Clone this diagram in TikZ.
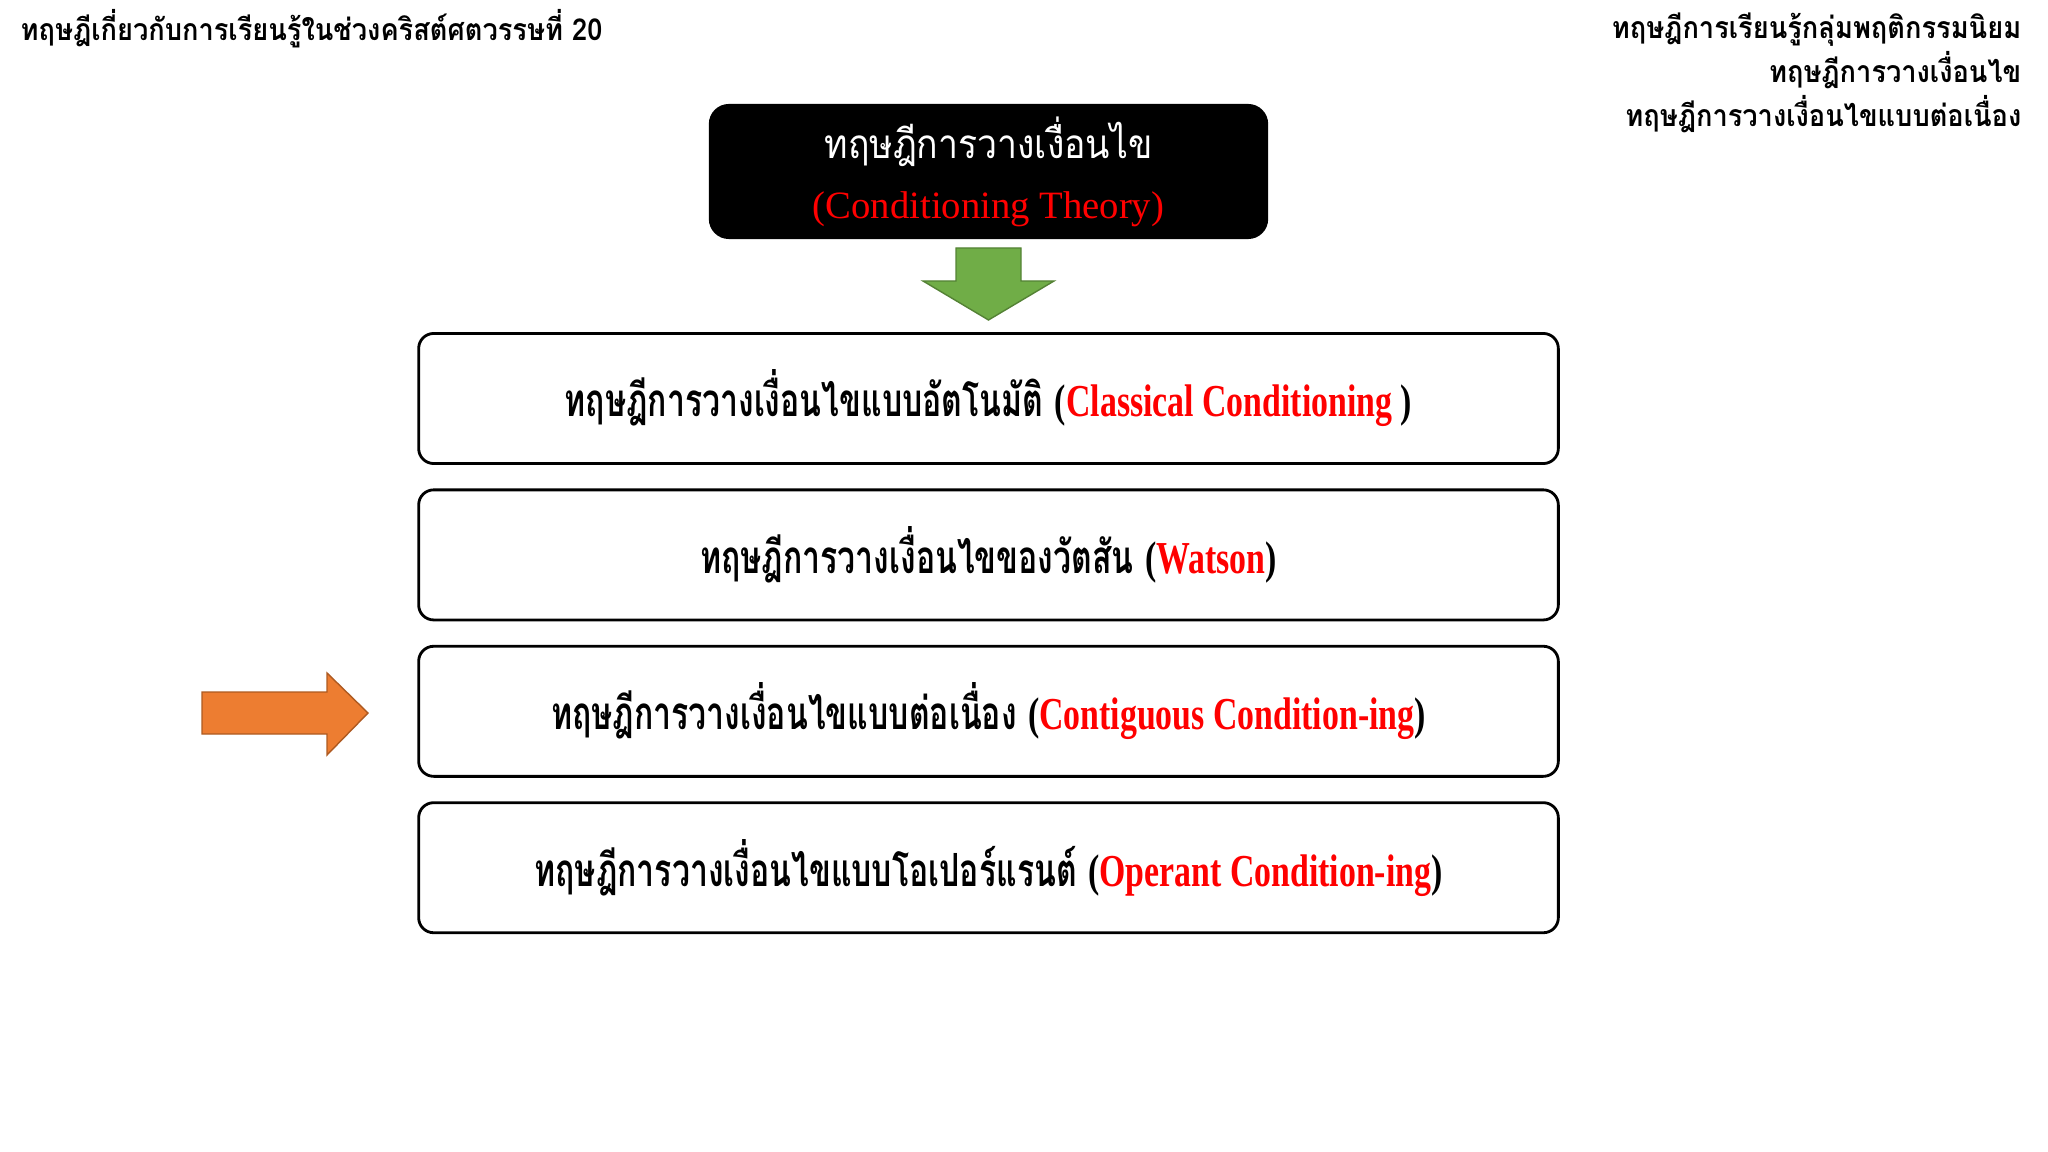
\documentclass[tikz,border=0pt]{standalone}
\usepackage{fontspec}
\setmainfont{Liberation Serif}
\newfontfamily\thaifont[Script=Thai]{Loma}
\newfontfamily\thaihead[Script=Thai,FakeStretch=0.9]{Loma}
\newfontfamily\thaititle[Script=Thai,FakeStretch=0.88]{Loma}
\newfontfamily\thaibox[Script=Thai,FakeStretch=0.7]{Loma}
\newfontfamily\engbox[FakeStretch=0.74]{Liberation Serif}
\usetikzlibrary{positioning}
\definecolor{arrowgreen}{RGB}{112,173,71}
\definecolor{arrowgreenline}{RGB}{84,130,53}
\definecolor{arroworange}{RGB}{237,125,49}
\definecolor{arroworangeline}{RGB}{174,90,33}

\begin{document}
\begin{tikzpicture}[
        x=0.01cm,y=-0.01cm,
        theorybox/.style={draw,thick,rounded corners=0.15cm,minimum width=11.39cm,minimum height=1.30cm,font=\bfseries\fontsize{13}{16}\selectfont},
        titlebox/.style={fill=black,rounded corners=0.2cm,minimum width=5.59cm,minimum height=1.35cm,align=center,font=\fontsize{11}{17}\selectfont},
        headtext/.style={inner sep=0pt,font=\thaihead\bfseries\fontsize{8.6}{12.5}\selectfont},
        node distance=0.235cm,
      ]
      \useasboundingbox (0,0) rectangle (2048,1152);
      % headings
      \node[headtext,anchor=west] (era) at (20,29) {ทฤษฎีเกี่ยวกับการเรียนรู้ในช่วงคริสต์ศตวรรษที่ 20};
      \node[headtext,anchor=east,align=right] (path) at (2022,73)
        {ทฤษฎีการเรียนรู้กลุ่มพฤติกรรมนิยม\\ทฤษฎีการวางเงื่อนไข\\ทฤษฎีการวางเงื่อนไขแบบต่อเนื่อง};
      % main title
      \node[titlebox] (title) at (988.5,171.5)
        {\textcolor{white}{\thaititle\fontsize{11.5}{17}\selectfont ทฤษฎีการวางเงื่อนไข}\\\textcolor{red}{(Conditioning Theory)}};
      \fill[arrowgreen,draw=arrowgreenline] (956,248) -- (1021,248) -- (1021,281) -- (1054,281)
        -- (988.5,320) -- (923,281) -- (956,281) -- cycle;
      % theories
      \node[theorybox] (classical) at (988.5,398.5)
        {{\thaibox ทฤษฎีการวางเงื่อนไขแบบอัตโนมัติ} {\engbox(\textcolor{red}{Classical Conditioning} )}};
      \node[theorybox,below=of classical] (watson)
        {{\thaibox ทฤษฎีการวางเงื่อนไขของวัตสัน} {\engbox(\textcolor{red}{Watson})}};
      \node[theorybox,below=of watson] (contiguous)
        {{\thaibox ทฤษฎีการวางเงื่อนไขแบบต่อเนื่อง} {\engbox(\textcolor{red}{Contiguous Condition-ing})}};
      \node[theorybox,below=of contiguous] (operant)
        {{\thaibox ทฤษฎีการวางเงื่อนไขแบบโอเปอร์แรนต์} {\engbox(\textcolor{red}{Operant Condition-ing})}};
      \fill[arroworange,draw=arroworangeline] (202,692) -- (327,692) -- (327,673) -- (368,713)
        -- (327,755) -- (327,734) -- (202,734) -- cycle;
    \end{tikzpicture}
\end{document}
